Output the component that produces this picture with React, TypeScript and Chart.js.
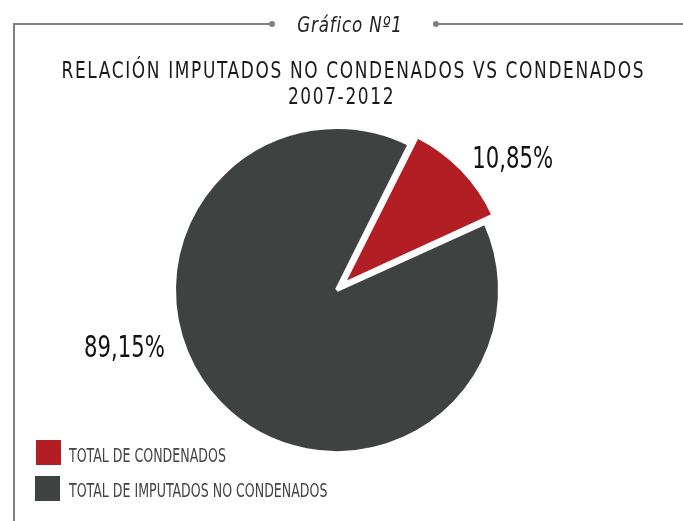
import React, { useEffect, useRef } from "react";
import { Chart, registerables } from "chart.js";

Chart.register(...registerables);

const CATEGORIES = ["TOTAL DE CONDENADOS", "TOTAL DE IMPUTADOS NO CONDENADOS"];
const VALUES = [10.85, 89.15];
const COLORS = ["#B31E24", "#3E4241"];
const TITLE_LINES = ["RELACIÓN IMPUTADOS NO CONDENADOS VS CONDENADOS", "2007-2012"];
const HEADING = "Gráfico Nº1";

const LABEL_ANGLES = [53, 255];
const FONT = "'Liberation Sans Narrow', 'DejaVu Sans Condensed', 'Arial Narrow', sans-serif";
const FRAME = "#808080";

const fmt = (v: number) => v.toFixed(2).replace(".", ",") + "%";

const pctLabels = {
  id: "pctLabels",
  afterDatasetsDraw(chart: any) {
    const meta = chart.getDatasetMeta(0);
    const ctx = chart.ctx as CanvasRenderingContext2D;
    ctx.save();
    ctx.font = `31px ${FONT}`;
    ctx.fillStyle = "#111111";
    ctx.textAlign = "center";
    ctx.textBaseline = "middle";
    meta.data.forEach((arc: any, i: number) => {
      const { x, y, outerRadius } = arc.getProps(["x", "y", "outerRadius"], true);
      const a = ((LABEL_ANGLES[i] - 90) * Math.PI) / 180;
      const d = outerRadius * 1.35;
      ctx.save();
      ctx.translate(x + Math.cos(a) * d, y + Math.sin(a) * d + 2);
      ctx.scale(0.76, 1);
      ctx.fillText(fmt(VALUES[i]), 0, 0);
      ctx.restore();
    });
    ctx.restore();
  },
};

export default function App() {
  const ref = useRef<HTMLCanvasElement>(null);

  useEffect(() => {
    if (!ref.current) return;
    const chart = new Chart(ref.current, {
      type: "pie",
      data: {
        labels: CATEGORIES,
        datasets: [
          {
            data: VALUES,
            backgroundColor: COLORS,
            borderColor: "#ffffff",
            borderWidth: 4,
            offset: [32, 0],
            radius: 163,
          } as any,
        ],
      },
      options: {
        responsive: false,
        animation: false,
        rotation: 26.5,
        layout: { padding: { left: 100, right: 109, top: 100, bottom: 41 } },
        plugins: {
          legend: { display: false },
          tooltip: { enabled: false },
          title: { display: false },
        },
      },
      plugins: [pctLabels],
    });
    return () => chart.destroy();
  }, []);

  const abs = (s: React.CSSProperties): React.CSSProperties => ({ position: "absolute", ...s });

  return (
    <div style={{ position: "absolute", left: 0, top: 0, width: 683, height: 521, overflow: "hidden", background: "#fff", fontFamily: FONT }}>
      <canvas ref={ref} width={683} height={521} style={abs({ left: 0, top: 0, width: 683, height: 521 })} />
      {/* frame */}
      <div style={abs({ left: 13, top: 23, width: 2, height: 498, background: FRAME })} />
      <div style={abs({ left: 13, top: 23, width: 259, height: 2, background: FRAME })} />
      <div style={abs({ left: 269, top: 21, width: 6, height: 6, borderRadius: 3, background: FRAME })} />
      <div style={abs({ left: 433, top: 21, width: 6, height: 6, borderRadius: 3, background: FRAME })} />
      <div style={abs({ left: 436, top: 23, width: 247, height: 2, background: FRAME })} />
      <div style={abs({ left: 250, top: 14, width: 200, textAlign: "center", fontSize: 22, lineHeight: "22px", fontStyle: "italic", letterSpacing: 1, color: "#222", whiteSpace: "nowrap", transform: "scaleX(0.845)", transformOrigin: "center" })}>
        {HEADING}
      </div>
      {/* title */}
      <div style={abs({ left: 0, top: 58, width: 683, textAlign: "center", fontSize: 23, lineHeight: "24px", letterSpacing: 2, color: "#1a1a1a", whiteSpace: "nowrap", transform: "scaleX(0.82)", transformOrigin: "center" })}>
        {TITLE_LINES[0]}
      </div>
      <div style={abs({ left: 0, top: 84, width: 683, textAlign: "center", fontSize: 23, lineHeight: "24px", letterSpacing: 2, color: "#1a1a1a", whiteSpace: "nowrap", transform: "scaleX(0.82)", transformOrigin: "center" })}>
        {TITLE_LINES[1]}
      </div>
      {/* legend */}
      {CATEGORIES.map((c, i) => (
        <React.Fragment key={c}>
          <div style={abs({ left: 36 - i, top: 440 + i * 36, width: 25, height: 25, background: COLORS[i] })} />
          <div style={abs({ left: 69, top: 445 + i * 35, fontSize: 20, lineHeight: "20px", color: "#444", whiteSpace: "nowrap", transform: "scaleX(0.70)", transformOrigin: "left center" })}>
            {c}
          </div>
        </React.Fragment>
      ))}
    </div>
  );
}
